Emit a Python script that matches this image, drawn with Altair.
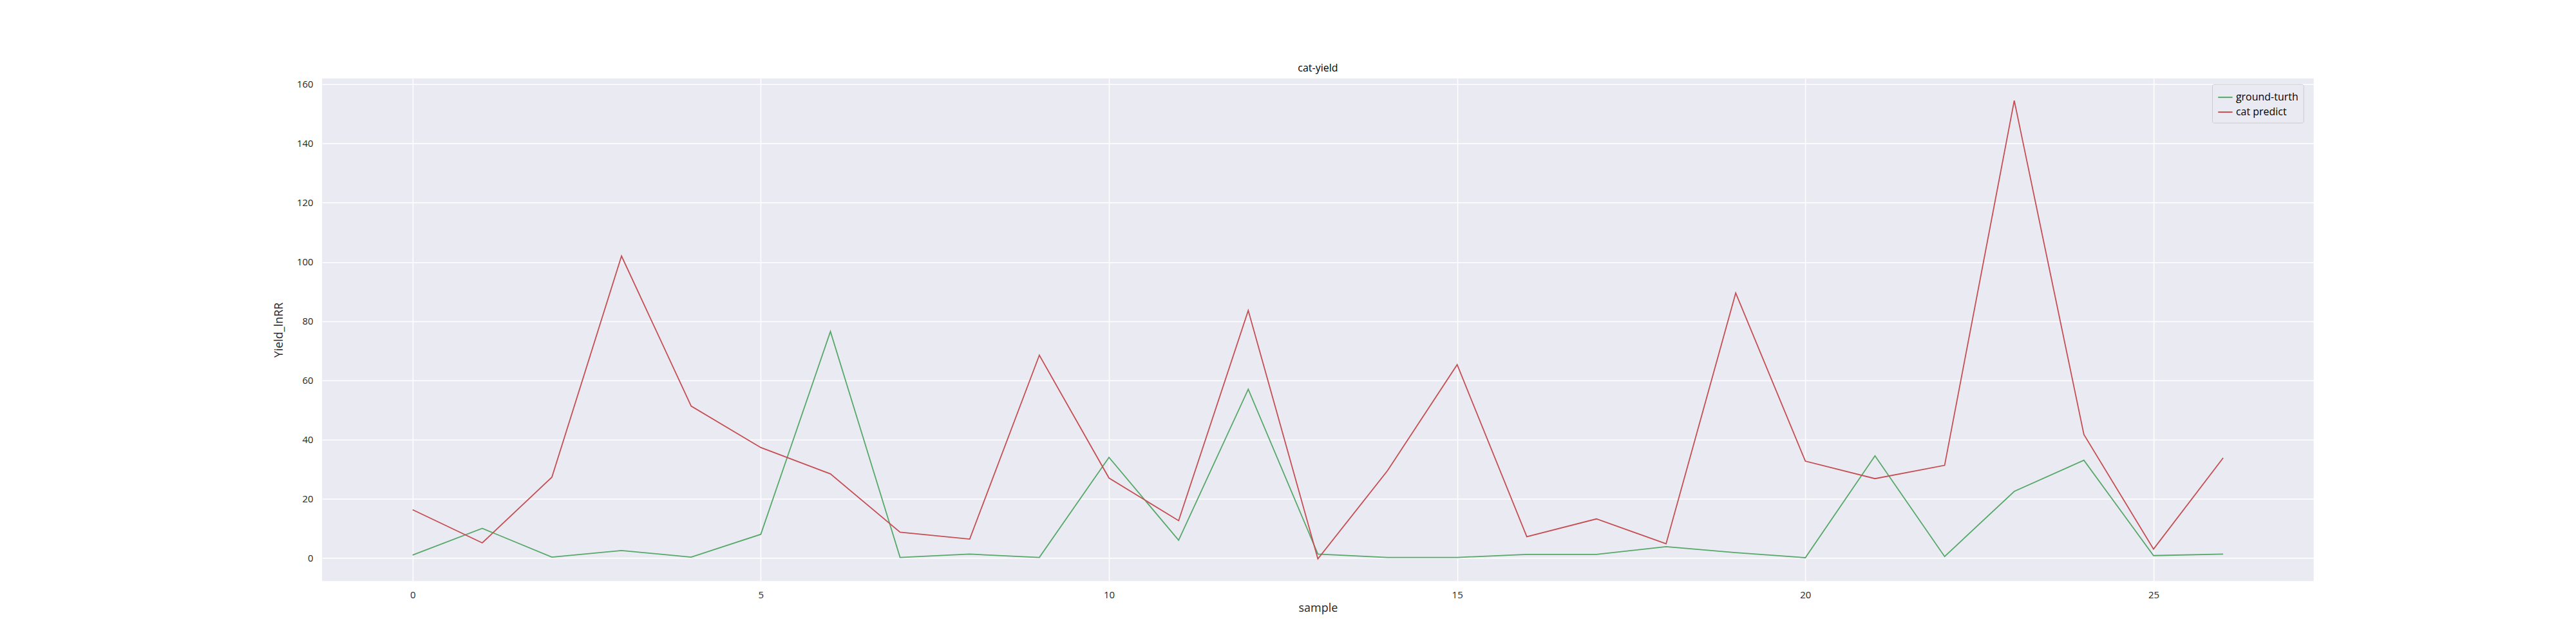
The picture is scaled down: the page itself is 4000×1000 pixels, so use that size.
import pandas as pd
import altair as alt

samples = list(range(27))
ground_truth = [1, 10, 0.3, 2.5, 0.3, 8, 76.5, 0.2, 1.3, 0.2, 34, 6, 57, 1.3, 0.2,
                0.2, 1.2, 1.2, 3.8, 1.8, 0.1, 34.5, 0.5, 22.5, 33, 0.8, 1.3]
cat_predict = [16.3, 5.1, 27.3, 102, 51.3, 37.3, 28.4, 8.7, 6.4, 68.5, 27, 12.6, 83.6, -0.3, 29.5,
               65.3, 7.2, 13.2, 4.8, 89.5, 32.7, 26.8, 31.3, 154.5, 41.7, 3, 33.8]

df = pd.concat([
    pd.DataFrame({"sample": samples, "value": ground_truth, "series": "ground-turth"}),
    pd.DataFrame({"sample": samples, "value": cat_predict, "series": "cat predict"}),
])

font = "Open Sans"
chart = alt.Chart(df).mark_line(strokeWidth=1.8, clip=True).encode(
    x=alt.X("sample:Q", scale=alt.Scale(domain=[-1.3, 27.3], nice=False, zero=False),
            axis=alt.Axis(values=[0, 5, 10, 15, 20, 25], title="sample")),
    y=alt.Y("value:Q", scale=alt.Scale(domain=[-7.8, 162], nice=False, zero=False),
            axis=alt.Axis(values=list(range(0, 161, 20)), title="Yield_lnRR")),
    color=alt.Color("series:N", sort=["ground-turth", "cat predict"],
                    scale=alt.Scale(domain=["ground-turth", "cat predict"], range=["#55a868", "#c44e52"]),
                    legend=alt.Legend(title=None, orient="none", legendX=2940, legendY=9,
                                      symbolType="stroke", symbolSize=500, symbolStrokeWidth=2,
                                      labelFontSize=16, labelFont=font, fillColor="#eaeaf2",
                                      strokeColor="#cccccc", padding=8, cornerRadius=3)),
).properties(
    width=3098, height=782,
    title=alt.TitleParams("cat-yield", fontSize=16, fontWeight="normal", font=font, offset=8),
    autosize=alt.AutoSizeParams(type="none"),
    padding={"left": 493, "top": 113, "right": 400, "bottom": 100},
).configure_view(
    fill="#eaeaf2", stroke=None
).configure_axis(
    grid=True, gridColor="white", gridWidth=1.5, domain=False, ticks=False,
    labelFont=font, labelFontSize=15, labelColor="#262626", labelPadding=14,
    titleFont=font, titleFontSize=18, titleFontWeight="normal", titleColor="#262626",
).configure_axisY(titlePadding=18)

chart.save("out.html", embed_options={"renderer": "svg", "actions": False})
